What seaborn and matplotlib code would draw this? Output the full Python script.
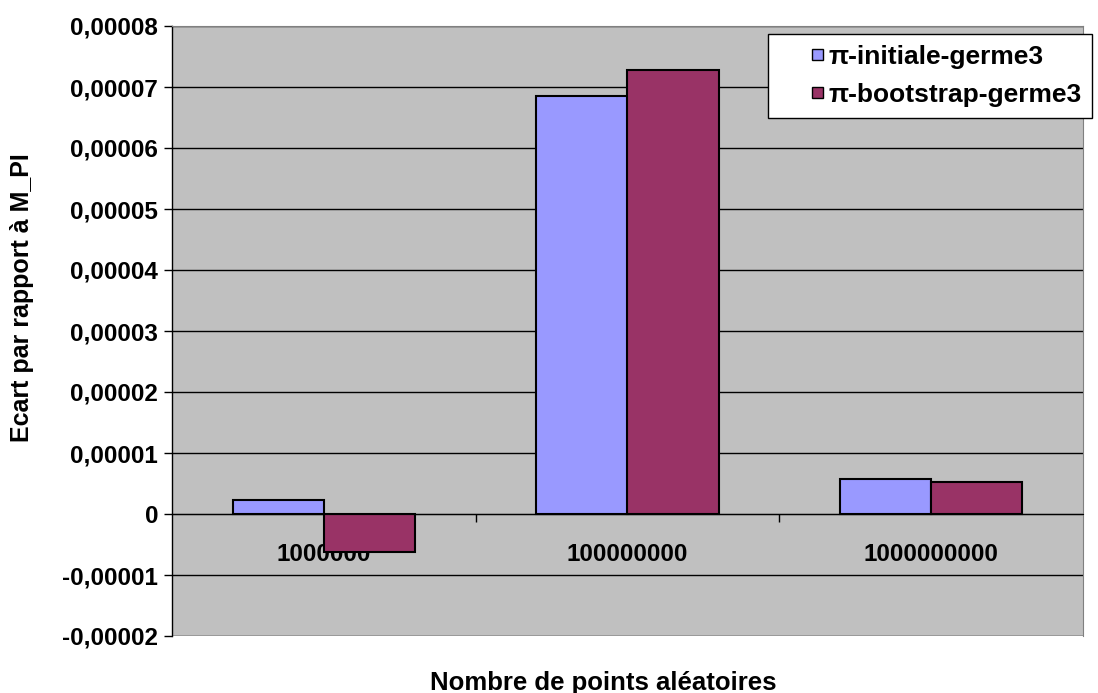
import numpy as np
import pandas as pd
import matplotlib
matplotlib.use("Agg")
import matplotlib.pyplot as plt
from matplotlib.patches import Rectangle
from matplotlib.legend_handler import HandlerPatch
from matplotlib.ticker import FixedLocator, FuncFormatter
import seaborn as sns

# -- data ------------------------------------------------------------------
categories = ["1000000", "100000000", "1000000000"]
series_names = ["\u03c0-initiale-germe3", "\u03c0-bootstrap-germe3"]
initiale = [0.0000023, 0.0000685, 0.0000058]
bootstrap = [-0.0000062, 0.0000728, 0.0000052]
colors = ["#9999FF", "#993366"]

df = pd.DataFrame({
    "points": categories * 2,
    "ecart": initiale + bootstrap,
    "serie": [series_names[0]] * 3 + [series_names[1]] * 3,
})

sns.set_style("white")
plt.rcParams["font.family"] = ["Liberation Sans", "DejaVu Sans"]
plt.rcParams["font.weight"] = "bold"
plt.rcParams["text.color"] = "black"
plt.rcParams["xtick.color"] = "black"
plt.rcParams["ytick.color"] = "black"

fig = plt.figure(figsize=(10.98, 6.93), dpi=100)
ax = fig.add_axes([172 / 1098, 1 - 636 / 693, 911 / 1098, 610 / 693])
ax.set_facecolor("#C0C0C0")

sns.barplot(
    data=df, x="points", y="ecart", hue="serie", order=categories,
    hue_order=series_names, palette=colors, saturation=1, width=0.6,
    edgecolor="black", linewidth=1.5, ax=ax,
)

# -- axes ------------------------------------------------------------------
ax.set_ylim(-0.00002, 0.00008)
ax.set_xlim(-0.5, 2.5)
yticks = np.arange(-2, 9) * 1e-5
ax.yaxis.set_major_locator(FixedLocator(yticks))


def _fmt(v, pos):
    if abs(v) < 1e-12:
        return "0"
    return "{:.5f}".format(v).replace(".", ",")


ax.yaxis.set_major_formatter(FuncFormatter(_fmt))
ax.set_axisbelow(True)
ax.grid(axis="y", color="black", linewidth=1)
ax.tick_params(axis="y", which="major", direction="out", length=6, width=1,
               color="black", labelsize=17.5, labelcolor="black", pad=4,
               left=True)

ax.spines["bottom"].set_position(("data", 0))
ax.spines["left"].set_color("black")
ax.spines["left"].set_linewidth(1)
for s in ["top", "right"]:
    ax.spines[s].set_color("#808080")
ax.spines["bottom"].set_color("black")

ax.xaxis.set_minor_locator(FixedLocator([0.5, 1.5]))
ax.tick_params(axis="x", which="major", length=0, labelsize=17.5,
               labelcolor="black", pad=21)
ax.tick_params(axis="x", which="minor", direction="out", length=6,
               width=1, color="black", bottom=True)
for lbl in ax.get_xticklabels() + ax.get_yticklabels():
    lbl.set_fontweight("bold")

ax.set_xlabel("")
ax.set_ylabel("")
fig.text(603 / 1098, 1 - 683 / 693, "Nombre de points al\u00e9atoires",
         ha="center", va="center", fontsize=18.5, fontweight="bold")
fig.text(22 / 1098, 1 - 298 / 693, "Ecart par rapport \u00e0 M_PI",
         ha="center", va="center", rotation=90, fontsize=18,
         fontweight="bold")


# -- legend ----------------------------------------------------------------
def _square_right(legend, orig_handle, xdescent, ydescent, width, height,
                  fontsize):
    """Small square swatch pushed to the right of the handle box (Excel-like)."""
    s = 0.42 * fontsize
    return Rectangle((width - xdescent - s, -ydescent + (height - s) / 2), s, s)


ax.legend_.remove()
handles = [Rectangle((0, 0), 1, 1, facecolor=c, edgecolor="black", lw=1)
           for c in colors]
leg = fig.legend(handles, series_names, loc="upper right",
                 bbox_to_anchor=(1092 / 1098, 1 - 34 / 693),
                 borderaxespad=0, frameon=True,
                 fancybox=False, framealpha=1, edgecolor="black",
                 handlelength=1.7, handleheight=0.7, handletextpad=0.2,
                 borderpad=0.4, labelspacing=0.55,
                 handler_map={Rectangle: HandlerPatch(patch_func=_square_right)},
                 prop={"size": 19, "weight": "bold"})
leg.get_frame().set_linewidth(1)

fig.savefig("out.png", dpi=100)
